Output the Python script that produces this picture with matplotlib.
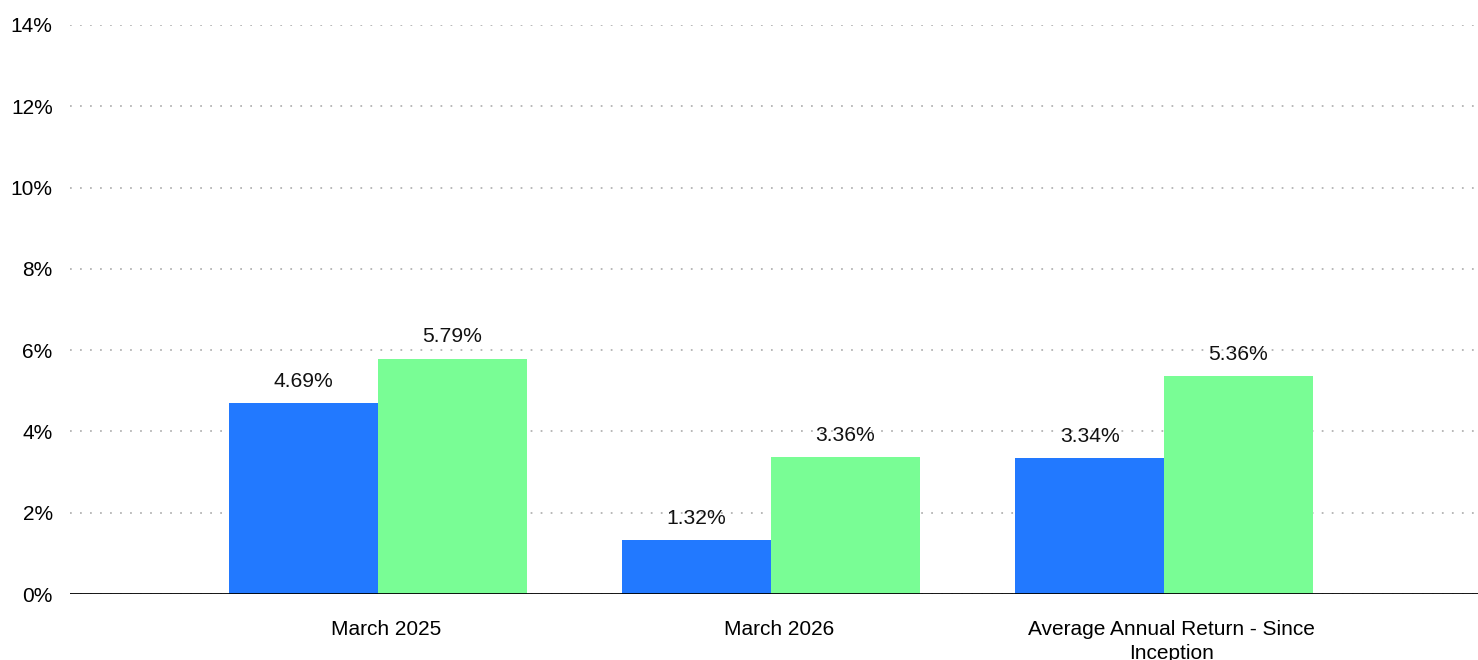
import matplotlib.pyplot as plt
import matplotlib.ticker as mticker
import numpy as np

plt.rcParams["font.family"] = ["Liberation Sans", "DejaVu Sans"]

# ── DATA ──────────────────────────────────────────────────────────────────────
categories = ["March 2025", "March 2026", "Average Annual Return - Since\nInception"]
series_a   = [4.69, 1.32, 3.34]
series_b   = [5.79, 3.36, 5.36]
y_ticks    = [0, 2, 4, 6, 8, 10, 12, 14]

BLUE  = "#2279FF"
GREEN = "#79FD95"
GRID  = "#b8b8b8"

# ── CHART ─────────────────────────────────────────────────────────────────────
fig = plt.figure(figsize=(14.78, 6.6), dpi=100)
ax = fig.add_axes([70 / 1478, 66 / 660, 1 - 70 / 1478, (594 - 25) / 660])

x = np.arange(len(categories))
w = 0.379

bars_a = ax.bar(x - w / 2, series_a, w, color=BLUE, zorder=3)
bars_b = ax.bar(x + w / 2, series_b, w, color=GREEN, zorder=3)
for bars in (bars_a, bars_b):
    ax.bar_label(bars, labels=[f"{v:.2f}%" for v in bars.datavalues],
                 padding=9, fontsize=15.2, color="#111111")

ax.set_xlim(-0.784, 2.799)
ax.set_ylim(0, 14)
ax.set_yticks(y_ticks)
ax.yaxis.set_major_formatter(mticker.FuncFormatter(lambda v, _: f"{v:.0f}%"))
ax.set_xticks(x + 0.02)
ax.set_xticklabels(categories, fontsize=15, linespacing=1.3)

ax.tick_params(axis="y", length=0, pad=12.5, labelsize=15)
ax.tick_params(axis="x", length=0, pad=19)

ax.grid(axis="y", color=GRID, linewidth=1.4, linestyle=(0, (0.9, 4.25)), zorder=0)
ax.axhline(0, color="black", linewidth=2.0, zorder=4)

for s in ax.spines.values():
    s.set_visible(False)

fig.savefig("out.png", dpi=100)
